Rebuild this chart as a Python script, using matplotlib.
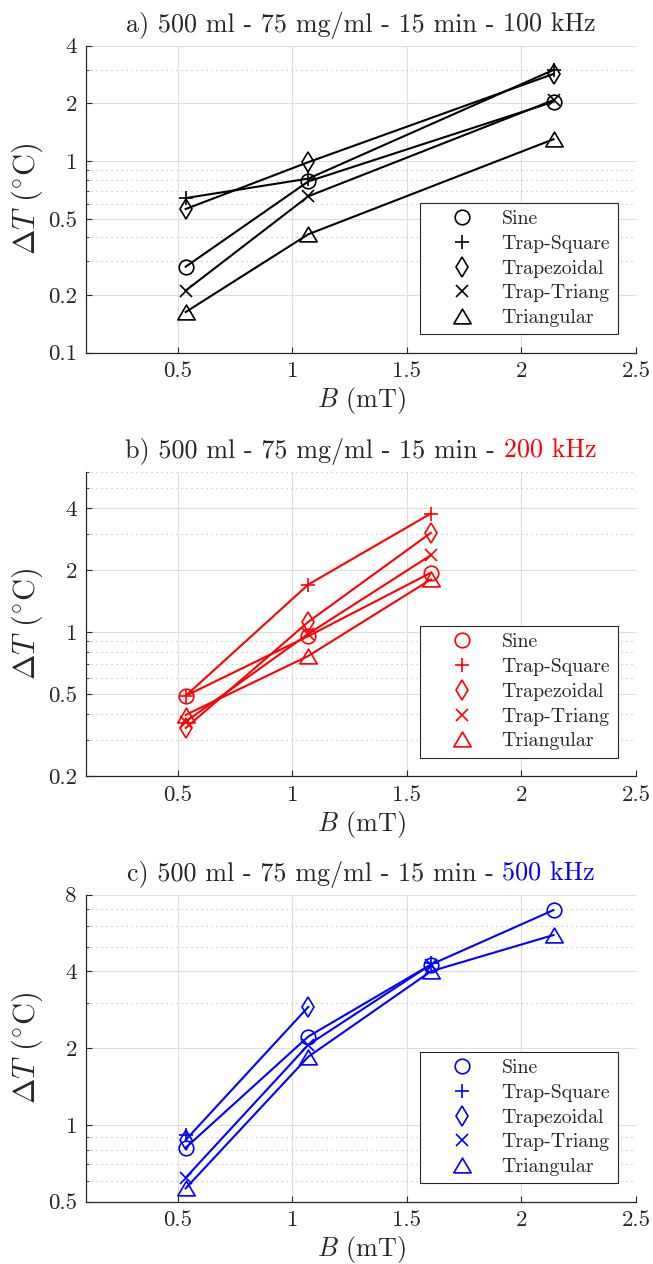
import numpy as np
import matplotlib
matplotlib.use('Agg')
import matplotlib.pyplot as plt
from matplotlib.lines import Line2D
from matplotlib.path import Path
from matplotlib.offsetbox import TextArea, HPacker, AnchoredOffsetbox
from matplotlib.ticker import FixedLocator, FixedFormatter, LogLocator, NullFormatter
import matplotlib.transforms as mtransforms

plt.rcParams.update({
    'font.family': 'serif',
    'font.serif': ['cmr10'],
    'mathtext.fontset': 'cm',
    'axes.formatter.use_mathtext': True,
    'axes.unicode_minus': False,
})

# ---------------- data ----------------
series_names = ['Sine', 'Trap-Square', 'Trapezoidal', 'Trap-Triang', 'Triangular']

# a) 100 kHz
b_a = [0.535, 1.07, 2.14]
a_sine = [0.281, 0.783, 2.04]
a_trap_square = [0.641, 0.81, 2.99]
a_trapezoidal = [0.562, 0.987, 2.85]
a_trap_triang = [0.211, 0.655, 2.08]
a_triangular = [0.163, 0.415, 1.30]

# b) 200 kHz
b_b = [0.535, 1.07, 1.605]
b_sine = [0.490, 0.955, 1.94]
b_trap_square = [0.490, 1.70, 3.76]
b_trapezoidal = [0.342, 1.12, 3.03]
b_trap_triang = [0.367, 0.98, 2.36]
b_triangular = [0.396, 0.765, 1.80]

# c) 500 kHz
b_c = [0.535, 1.07, 1.605, 2.14]
c_sine = [0.814, 2.22, 4.25, 6.95]
c_trap_square = [0.914, np.nan, 4.30, np.nan]
c_trapezoidal = [0.873, 2.90, np.nan, np.nan]
c_trap_triang = [0.621, 2.06, 4.25, np.nan]
c_triangular = [0.564, 1.85, 4.00, 5.55]

xticks = [0.5, 1.0, 1.5, 2.0, 2.5]
xtick_labels = ['0.5', '1', '1.5', '2', '2.5']
xlim = [0.1, 2.5]

yticks_a = [0.1, 0.2, 0.5, 1, 2, 4]
ytick_labels_a = ['0.1', '0.2', '0.5', '1', '2', '4']
ylim_a = [0.1, 4]
yticks_b = [0.2, 0.5, 1, 2, 4]
ytick_labels_b = ['0.2', '0.5', '1', '2', '4']
ylim_b = [0.2, 6]
yticks_c = [0.5, 1, 2, 4, 8]
ytick_labels_c = ['0.5', '1', '2', '4', '8']
ylim_c = [0.5, 8]

title_prefix_a = 'a) 500 ml - 75 mg/ml - 15 min -'
title_freq_a = '100 kHz'
title_prefix_b = 'b) 500 ml - 75 mg/ml - 15 min -'
title_freq_b = '200 kHz'
title_prefix_c = 'c) 500 ml - 75 mg/ml - 15 min -'
title_freq_c = '500 kHz'

# ---------------- styles ----------------
tri = Path([(0, 0.85), (-1, -0.85), (1, -0.85), (0, 0.85)],
           [Path.MOVETO, Path.LINETO, Path.LINETO, Path.CLOSEPOLY])
markers = ['o', '+', 'd', 'x', tri]
msizes = [10.5, 10, 10.5, 8, 12.5]

TICK_FS = 16.5
LABEL_FS = 18.8
YLABEL_FS = 22
TITLE_FS = 18.8
LEG_FS = 14.3

W, H = 653, 1264
fig = plt.figure(figsize=(W / 100, H / 100), dpi=100)

left_px, right_px = 86, 636
axes_px = [(45.7, 352.7), (471.7, 776.0), (894.5, 1201.7)]

panels = [
    (b_a, [a_sine, a_trap_square, a_trapezoidal, a_trap_triang, a_triangular],
     'black', yticks_a, ytick_labels_a, ylim_a, title_prefix_a, title_freq_a, 'black'),
    (b_b, [b_sine, b_trap_square, b_trapezoidal, b_trap_triang, b_triangular],
     'red', yticks_b, ytick_labels_b, ylim_b, title_prefix_b, title_freq_b, 'red'),
    (b_c, [c_sine, c_trap_square, c_trapezoidal, c_trap_triang, c_triangular],
     'blue', yticks_c, ytick_labels_c, ylim_c, title_prefix_c, title_freq_c, 'blue'),
]

axc = (0.15, 0.15, 0.15)
for (top, bot), (xs, ys_list, col, yt, ytl, yl, tpre, tfreq, tcol) in zip(axes_px, panels):
    ax = fig.add_axes([left_px / W, 1 - bot / H, (right_px - left_px) / W, (bot - top) / H])
    ax.set_yscale('log')
    ax.set_xlim(xlim)
    ax.set_ylim(yl)
    ax.set_axisbelow(True)

    for name, ys, m, ms in zip(series_names, ys_list, markers, msizes):
        ax.plot(xs, ys, color=col, lw=1.5, marker=m, ms=ms, mfc='none',
                mew=1.2, mec=col, zorder=3)

    ax.xaxis.set_major_locator(FixedLocator(xticks))
    ax.xaxis.set_major_formatter(FixedFormatter(xtick_labels))
    ax.yaxis.set_major_locator(FixedLocator(yt))
    ax.yaxis.set_major_formatter(FixedFormatter(ytl))
    ax.yaxis.set_minor_locator(LogLocator(base=10, subs=np.arange(2, 10), numticks=20))
    ax.yaxis.set_minor_formatter(NullFormatter())

    ax.grid(True, which='major', axis='both', color=(0.87, 0.87, 0.87), lw=0.8, ls='-')
    ax.grid(True, which='minor', axis='y', color=(0.72, 0.72, 0.72), lw=0.8,
            ls=(0, (1, 3.5)))

    for s in ['top', 'right']:
        ax.spines[s].set_visible(False)
    for s in ['left', 'bottom']:
        ax.spines[s].set_color(axc)
        ax.spines[s].set_linewidth(0.9)

    ax.tick_params(which='major', direction='in', length=4, width=0.8, colors=axc,
                   labelsize=TICK_FS, pad=6.5, labelcolor=axc)
    ax.tick_params(which='minor', direction='in', length=2.5, width=0.6, colors=axc)
    ax.tick_params(top=False, right=False)

    ax.set_xlabel(r'$B$ (mT)', fontsize=LABEL_FS, color=axc, labelpad=3)
    ax.set_ylabel(r'$\Delta T$ ($^{\circ}$C)', fontsize=YLABEL_FS, color=axc, labelpad=2)

    handles = [Line2D([], [], ls='none', marker=m, ms=ms, mfc='none', mec=col, mew=1.2)
               for m, ms in zip(markers, msizes)]
    leg = ax.legend(handles, series_names, loc='lower right', fontsize=LEG_FS,
                    frameon=True, fancybox=False, edgecolor=axc, framealpha=1,
                    borderpad=0.37, handlelength=3.54, handletextpad=0.22,
                    labelspacing=0.34, borderaxespad=0.92)
    leg.get_frame().set_linewidth(0.8)
    for t in leg.get_texts():
        t.set_color(axc)

    ta1 = TextArea(tpre, textprops=dict(fontsize=TITLE_FS, color=axc))
    ta2 = TextArea(tfreq, textprops=dict(fontsize=TITLE_FS, color=tcol if tcol != 'black' else axc))
    pack = HPacker(children=[ta1, ta2], sep=TITLE_FS * 0.333, pad=0, align='baseline')
    trans = mtransforms.offset_copy(ax.transAxes, fig=fig, x=0, y=5.0, units='points')
    ab = AnchoredOffsetbox(loc='lower center', child=pack, pad=0, borderpad=0,
                           frameon=False, bbox_to_anchor=(0.5, 1.0),
                           bbox_transform=trans)
    ax.add_artist(ab)

fig.savefig('out.png', dpi=100)
